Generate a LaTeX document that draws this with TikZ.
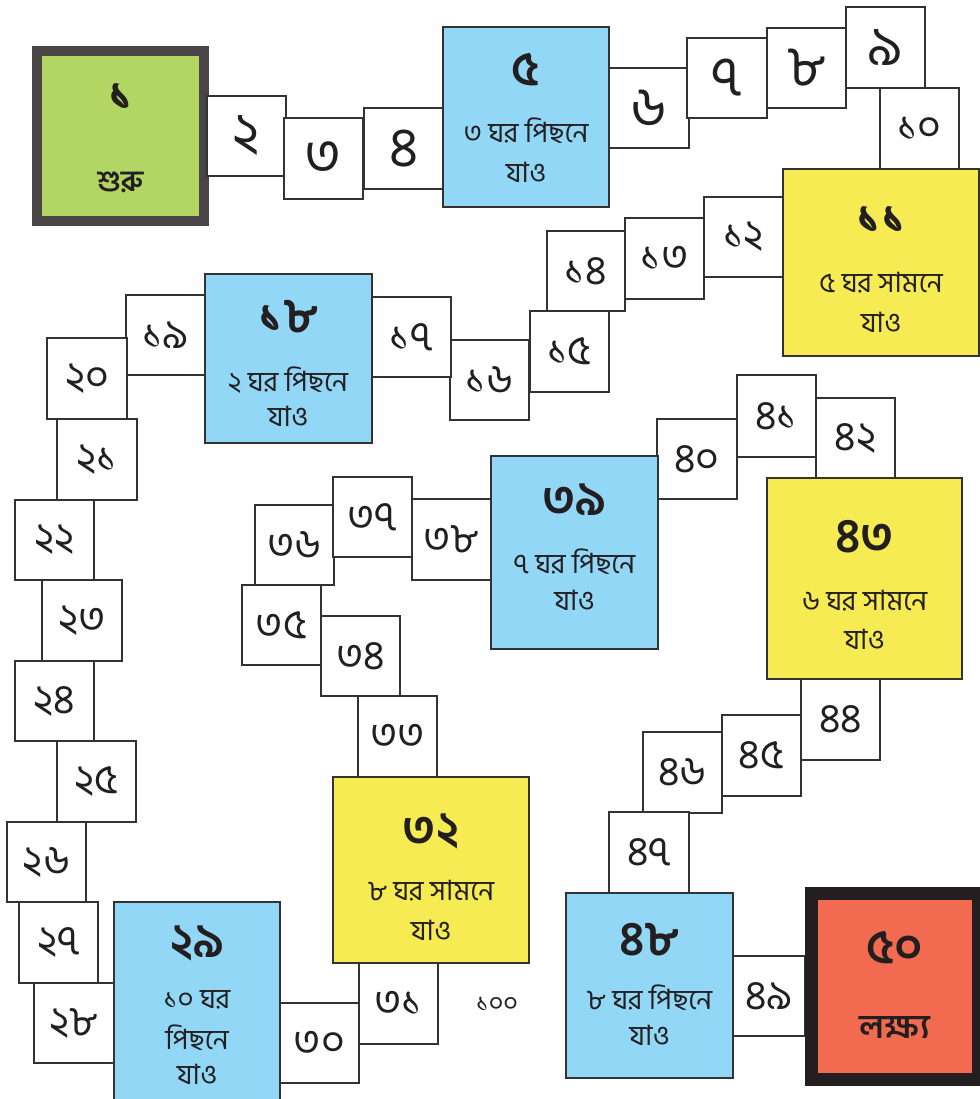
\documentclass[tikz,border=0pt]{standalone}
\usepackage{fontspec}
\newfontfamily\bn[Script=Bengali]{Hind Siliguri}
\usetikzlibrary{fit}
\definecolor{lc}{HTML}{333333}
\definecolor{cblue}{HTML}{92D7F6}
\definecolor{cyel}{HTML}{F6EB52}
\definecolor{cgreen}{HTML}{B2D563}
\definecolor{cred}{HTML}{F26B50}
\definecolor{cdark}{HTML}{4A4647}
\definecolor{cblack}{HTML}{231F20}
\definecolor{tc}{HTML}{231F20}
\tikzset{
  cell/.style={draw=lc, line width=1.5pt, fill=white, inner sep=0pt},
  bluecell/.style={cell, fill=cblue},
  yelcell/.style={cell, fill=cyel},
  onedig/.style={text=tc, inner sep=0pt, font=\bn\fontsize{42}{48}\selectfont},
  twodig/.style={text=tc, inner sep=0pt, font=\bn\fontsize{31}{36}\selectfont},
  bignum/.style={text=tc, inner sep=0pt, font=\bn\bfseries\fontsize{36}{42}\selectfont},
  msg/.style={text=tc, inner sep=0pt, font=\bn\fontsize{21}{25}\selectfont},
  endword/.style={text=tc, inner sep=0pt, font=\bn\bfseries\fontsize{22}{26}\selectfont},
  goalword/.style={endword, font=\bn\bfseries\fontsize{25}{30}\selectfont},
  small/.style={text=tc, inner sep=0pt, font=\bn\fontsize{19}{22}\selectfont}
}
\newcommand\sqc[7]{%
  \node[cell, fit={(#2,#3) (#4,#5)}] (b#1) {};
  \node[#6] (l#1) at (b#1.center) {#7};}
\begin{document}
\begin{tikzpicture}[x=0.75pt, y=-0.75pt]
\useasboundingbox (0,0) rectangle (980,1099);
\clip (0,0) rectangle (980,1099);
% start
\draw[line width=7.5pt, draw=cdark, fill=cgreen] (37,51) rectangle (204,221);
\node[inner sep=0pt, fit={(32,46) (209,226)}] (b1) {};
\node[bignum] (n1) at (120.5,97) {১};
\node[endword] (s1) at (120.5,182) {শুরু};
% small cells
\sqc{2}{207}{96}{286}{176}{onedig}{২}
\sqc{3}{284}{118}{363}{199}{onedig}{৩}
\sqc{4}{364}{108}{443}{189}{onedig}{৪}
\sqc{6}{609}{68}{689}{148}{onedig}{৬}
\sqc{7}{687}{38}{767}{118}{onedig}{৭}
\sqc{8}{767}{28}{846}{108}{onedig}{৮}
\sqc{9}{846}{7}{925}{88}{onedig}{৯}
\sqc{10}{880}{88}{959}{169}{twodig}{১০}
\sqc{12}{704}{197}{783}{277}{twodig}{১২}
\sqc{13}{625}{218}{704}{299}{twodig}{১৩}
\sqc{14}{547}{231}{625}{311}{twodig}{১৪}
\sqc{15}{530}{311}{609}{392}{twodig}{১৫}
\sqc{16}{450}{340}{529}{420}{twodig}{১৬}
\sqc{17}{372}{297}{451}{377}{twodig}{১৭}
\sqc{19}{126}{295}{205}{375}{twodig}{১৯}
\sqc{20}{47}{338}{127}{419}{twodig}{২০}
\sqc{21}{57}{419}{137}{500}{twodig}{২১}
\sqc{22}{15}{500}{94}{580}{twodig}{২২}
\sqc{23}{42}{580}{122}{661}{twodig}{২৩}
\sqc{24}{15}{661}{94}{741}{twodig}{২৪}
\sqc{25}{57}{741}{136}{822}{twodig}{২৫}
\sqc{26}{7}{822}{86}{902}{twodig}{২৬}
\sqc{27}{19}{902}{98}{983}{twodig}{২৭}
\sqc{28}{34}{983}{114}{1063}{twodig}{২৮}
\sqc{30}{280}{1003}{359}{1083}{twodig}{৩০}
\sqc{31}{359}{963}{438}{1044}{twodig}{৩১}
\sqc{33}{358}{696}{437}{777}{twodig}{৩৩}
\sqc{34}{321}{616}{400}{696}{twodig}{৩৪}
\sqc{35}{242}{585}{321}{665}{twodig}{৩৫}
\sqc{36}{255}{505}{334}{585}{twodig}{৩৬}
\sqc{37}{333}{477}{412}{557}{twodig}{৩৭}
\sqc{38}{412}{499}{491}{580}{twodig}{৩৮}
\sqc{40}{657}{419}{737}{499}{twodig}{৪০}
\sqc{41}{737}{375}{816}{457}{twodig}{৪১}
\sqc{42}{816}{398}{895}{478}{twodig}{৪২}
\sqc{44}{801}{679}{880}{760}{twodig}{৪৪}
\sqc{45}{722}{715}{801}{796}{twodig}{৪৫}
\sqc{46}{643}{732}{722}{813}{twodig}{৪৬}
\sqc{47}{609}{812}{689}{893}{twodig}{৪৭}
\sqc{49}{733}{956}{805}{1036}{twodig}{৪৯}
% special cells
\node[bluecell, fit={(443,27) (609,207)}] (b5) {};
\node[bignum] (n5) at (526,70) {৫};
\node[msg] (m5) at (526,131) {৩ ঘর পিছনে};
\node[msg] (g5) at (526,172) {যাও};
\node[yelcell, fit={(783,169) (979,356)}] (b11) {};
\node[bignum] (n11) at (881,220) {১১};
\node[msg] (m11) at (881,283) {৫ ঘর সামনে};
\node[msg] (g11) at (881,322) {যাও};
\node[bluecell, fit={(205,274) (372,443)}] (b18) {};
\node[bignum] (n18) at (288,317) {১৮};
\node[msg] (m18) at (288,380) {২ ঘর পিছনে};
\node[msg] (g18) at (288,416) {যাও};
\node[bluecell, fit={(114,902) (280,1120)}] (b29) {};
\node[bignum] (n29) at (197,943) {২৯};
\node[msg] (m29) at (197,1000) {১০ ঘর};
\node[msg] (p29) at (197,1038) {পিছনে};
\node[msg] (g29) at (197,1074) {যাও};
\node[yelcell, fit={(333,777) (529,963)}] (b32) {};
\node[bignum] (n32) at (431,831) {৩২};
\node[msg] (m32) at (431,891) {৮ ঘর সামনে};
\node[msg] (g32) at (431,930) {যাও};
\node[bluecell, fit={(491,456) (658,649)}] (b39) {};
\node[bignum] (n39) at (574.5,500) {৩৯};
\node[msg] (m39) at (574.5,562) {৭ ঘর পিছনে};
\node[msg] (g39) at (574.5,600) {যাও};
\node[yelcell, fit={(767,478) (962,679)}] (b43) {};
\node[bignum] (n43) at (864.5,537) {৪৩};
\node[msg] (m43) at (864.5,601) {৬ ঘর সামনে};
\node[msg] (g43) at (864.5,639) {যাও};
\node[bluecell, fit={(566,893) (733,1078)}] (b48) {};
\node[bignum] (n48) at (649.5,940) {৪৮};
\node[msg] (m48) at (649.5,998) {৮ ঘর পিছনে};
\node[msg] (g48) at (649.5,1035) {যাও};
% goal
\draw[line width=10pt, draw=cblack, fill=cred] (811.5,893.5) rectangle (978.5,1079.5);
\node[inner sep=0pt, fit={(805,887) (985,1086)}] (b50) {};
\node[bignum] (n50) at (895,948) {৫০};
\node[goalword] (s50) at (895,1027) {লক্ষ্য};
% stray label
\node[small] (h) at (497,1004) {১০০};
\end{tikzpicture}
\end{document}
